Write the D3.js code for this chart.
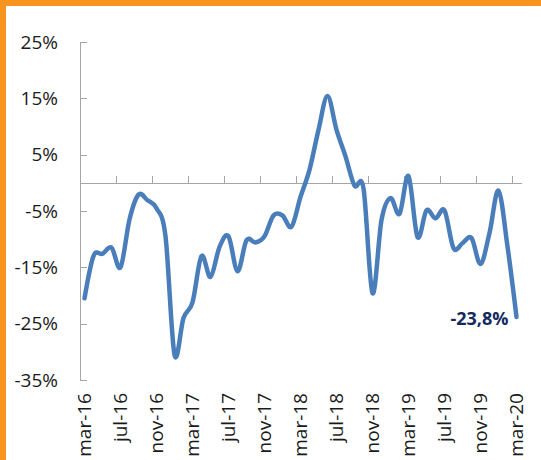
<html>
<head>
<style>
  body { margin: 0; background: #fff; }
  svg { position: absolute; top: 0px; left: 0px; }
  .frame { fill: #f7941e; }
  .axis path, .axis line { stroke: #a6a6a6; stroke-width: 1.2px; shape-rendering: crispEdges; }
  .axis text { font-family: "Open Sans", sans-serif; font-size: 19px; fill: #1a1a1a; }
  .serie { fill: none; stroke: #4a7ebb; stroke-width: 4.5px; stroke-linejoin: round; stroke-linecap: round; }
  .last { font-family: "Open Sans", sans-serif; font-size: 18px; font-weight: bold; fill: #132a5e; }
</style>
<script src="https://cdnjs.cloudflare.com/ajax/libs/d3/7.8.5/d3.min.js"></script>
</head>
<body>
<svg width="541" height="460"></svg>
<script>
var months = ["mar-16","abr-16","may-16","jun-16","jul-16","ago-16","sep-16","oct-16","nov-16","dic-16",
  "ene-17","feb-17","mar-17","abr-17","may-17","jun-17","jul-17","ago-17","sep-17","oct-17","nov-17","dic-17",
  "ene-18","feb-18","mar-18","abr-18","may-18","jun-18","jul-18","ago-18","sep-18","oct-18","nov-18","dic-18",
  "ene-19","feb-19","mar-19","abr-19","may-19","jun-19","jul-19","ago-19","sep-19","oct-19","nov-19","dic-19",
  "ene-20","feb-20","mar-20"];

// variacion interanual, %
var values = [-20.5,-13.0,-12.6,-11.5,-15.0,-6.5,-2.1,-3.1,-4.5,-9.5,
  -30.5,-24.0,-21.2,-13.0,-16.7,-11.4,-9.5,-15.7,-10.2,-10.6,-9.5,-5.8,
  -5.8,-7.8,-2.5,2.3,9.4,15.4,9.4,4.7,-0.5,-1.0,-19.6,-6.6,
  -2.7,-5.5,1.2,-9.6,-4.9,-6.3,-4.9,-11.6,-10.7,-9.8,-14.4,-8.9,
  -1.4,-11.3,-23.8];

var yTicks = [-35,-25,-15,-5,5,15,25];
var xLabels = ["mar-16","jul-16","nov-16","mar-17","jul-17","nov-17","mar-18","jul-18","nov-18","mar-19","jul-19","nov-19","mar-20"];
var lastLabel = "-23,8%";

var svg = d3.select("svg"),
    width = +svg.attr("width"),
    height = +svg.attr("height");

// marco naranja
svg.append("rect").attr("class","frame").attr("x",0).attr("y",0).attr("width",width).attr("height",6);
svg.append("rect").attr("class","frame").attr("x",0).attr("y",0).attr("width",6).attr("height",height);

var x = d3.scaleBand().domain(months).range([80, 521]).padding(0),
    xIdx = d3.scaleLinear().domain([0, months.length]).range([80, 521]),
    y = d3.scaleLinear().domain([-35, 25]).range([380, 42]);

var cx = function(m) { return x(m) + x.bandwidth()/2; };

// eje y
svg.append("g").attr("class","axis")
  .attr("transform","translate(80,0)")
  .call(d3.axisLeft(y).tickValues(yTicks).tickSizeInner(-7).tickSizeOuter(0).tickPadding(22)
    .tickFormat(function(d){ return d + "%"; }));

// eje x en el cero
svg.append("g").attr("class","axis")
  .attr("transform","translate(0," + y(0) + ")")
  .call(d3.axisTop(xIdx).tickValues(d3.range(4, months.length, 4)).tickSizeInner(7).tickSizeOuter(0).tickFormat(""));

// etiquetas
var xl = svg.append("g").attr("class","axis")
  .attr("transform","translate(0,393)")
  .call(d3.axisBottom(x).tickValues(xLabels).tickSize(0));
xl.select(".domain").remove();
xl.selectAll("text")
  .attr("x", 0).attr("y", 0).attr("dy","0.33em")
  .attr("text-anchor","end")
  .attr("transform","rotate(-90)");

var line = d3.line()
  .x(function(d, i) { return cx(months[i]); })
  .y(function(d) { return y(d); })
  .curve(d3.curveCardinal.tension(0));

svg.append("path").datum(values).attr("class","serie").attr("d", line);

var n = values.length - 1;
svg.append("text").attr("class","last")
  .attr("x", cx(months[n]) - 8)
  .attr("y", y(values[n]) + 8)
  .attr("text-anchor","end")
  .text(lastLabel);
</script>
</body>
</html>
